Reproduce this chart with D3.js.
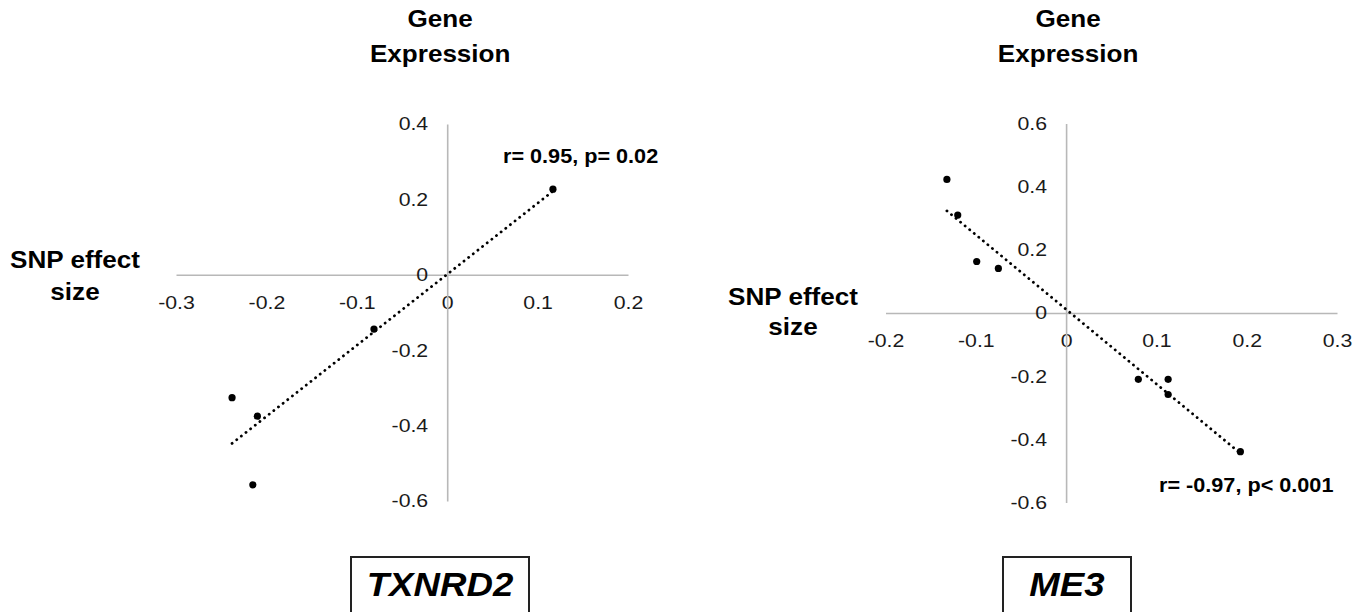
<!DOCTYPE html>
<html>
<head>
<meta charset="utf-8">
<script src="https://cdn.jsdelivr.net/npm/d3@7"></script>
<style>
  html, body { margin: 0; padding: 0; background: #fff; }
  svg { display: block; }
  text { font-family: "Liberation Sans", Arial, sans-serif; }
</style>
</head>
<body>
<svg id="chart" width="1368" height="612"></svg>
<script>
// ---- data ----
const txnrd2X = [0.117, -0.081, -0.238, -0.210, -0.215];
const txnrd2Y = [0.227, -0.144, -0.326, -0.375, -0.557];
const me3X = [-0.132, -0.120, -0.099, -0.075, 0.080, 0.113, 0.113, 0.193];
const me3Y = [0.423, 0.310, 0.163, 0.141, -0.210, -0.210, -0.258, -0.439];

const txnrd2XTicks = [-0.3, -0.2, -0.1, 0, 0.1, 0.2];
const txnrd2YTicks = [-0.6, -0.4, -0.2, 0, 0.2, 0.4];
const me3XTicks = [-0.2, -0.1, 0, 0.1, 0.2, 0.3];
const me3YTicks = [-0.6, -0.4, -0.2, 0, 0.2, 0.4, 0.6];

const geneNames = ["TXNRD2", "ME3"];
const statLabels = ["r= 0.95, p= 0.02", "r= -0.97, p< 0.001"];
const titleLines = ["Gene", "Expression"];
const snpLines = ["SNP effect", "size"];

// ---- layout ----
const panels = [
  { xs: txnrd2X, ys: txnrd2Y, xt: txnrd2XTicks, yt: txnrd2YTicks,
    xRange: [176, 628], yRange: [501, 124], titleDx: -7,
    snp: [75, 268, 300], stat: [503, 163], box: [351, 557, 178, 58], labelY: 596 },
  { xs: me3X, ys: me3Y, xt: me3XTicks, yt: me3YTicks,
    xRange: [885.5, 1337], yRange: [502.5, 123.5], titleDx: 2,
    snp: [793, 305, 335], stat: [1159, 492], box: [1003, 557, 128, 58], labelY: 596 }
];

const SX = 1.15; // horizontal stretch of the source picture
const svg = d3.select("#chart");
const fmt = d => { const v = +(+d).toFixed(1); return (v === 0 ? "0" : String(v)); };

panels.forEach((p, i) => {
  const xDom = d3.extent(p.xt), yDom = d3.extent(p.yt);
  const x = d3.scaleLinear().domain(xDom).range(p.xRange);
  const y = d3.scaleLinear().domain(yDom).range(p.yRange);
  const g = svg.append("g");

  // x axis (at y = 0)
  const xa = g.append("g").attr("transform", `translate(0,${y(0)})`)
    .call(d3.axisBottom(x).tickValues(p.xt).tickFormat(fmt).tickSizeInner(0).tickSizeOuter(0).tickPadding(21));
  // y axis (at x = 0)
  const ya = g.append("g").attr("transform", `translate(${x(0)},0)`)
    .call(d3.axisLeft(y).tickValues(p.yt).tickFormat(fmt).tickSizeInner(0).tickSizeOuter(0).tickPadding(19));

  [xa, ya].forEach(a => {
    a.select(".domain").attr("stroke", "#b8b8b8").attr("stroke-width", 1.6);
    a.selectAll(".tick line").remove();
    a.selectAll(".tick text")
      .attr("fill", "#1a1a1a")
      .style("font-size", "18.5px")
      .style("font-family", '"Liberation Sans", Arial, sans-serif');
  });
  xa.selectAll(".tick text").attr("transform", `scale(${SX},1)`);
  ya.selectAll(".tick text").attr("x", -19 / SX).attr("transform", `scale(${SX},1)`);

  // trendline (least squares)
  const mx = d3.mean(p.xs), my = d3.mean(p.ys);
  const sxy = d3.sum(p.xs, (v, k) => (v - mx) * (p.ys[k] - my));
  const sxx = d3.sum(p.xs, v => (v - mx) * (v - mx));
  const slope = sxy / sxx, icpt = my - slope * mx;
  const [x0, x1] = d3.extent(p.xs);
  g.append("path")
    .attr("d", d3.line()([[x(x0), y(slope * x0 + icpt)], [x(x1), y(slope * x1 + icpt)]]))
    .attr("fill", "none").attr("stroke", "#000").attr("stroke-width", 2.8)
    .attr("stroke-linecap", "round").attr("stroke-dasharray", "0.1,5.8");

  // points
  g.selectAll("circle").data(p.xs.map((v, k) => [v, p.ys[k]])).join("circle")
    .attr("cx", d => x(d[0])).attr("cy", d => y(d[1])).attr("r", 3.6).attr("fill", "#000");

  const boldText = (txt, cx, by, size, anchor, style) => {
    g.append("text").attr("transform", `translate(${cx},${by}) scale(${SX - 0.04},1)`)
      .attr("text-anchor", anchor).attr("font-weight", "bold")
      .attr("font-style", style || "normal")
      .style("font-size", size + "px").attr("fill", "#000").text(txt);
  };

  // titles
  const tc = x(0) + p.titleDx;
  boldText(titleLines[0], tc, 27, 23.5, "middle");
  boldText(titleLines[1], tc, 62, 23.5, "middle");
  // SNP effect size
  boldText(snpLines[0], p.snp[0], p.snp[1], 23.5, "middle");
  boldText(snpLines[1], p.snp[0], p.snp[2], 23.5, "middle");
  // stat annotation
  g.append("text").attr("transform", `translate(${p.stat[0]},${p.stat[1]}) scale(${SX - 0.04},1)`)
    .attr("font-weight", "bold").style("font-size", "19.5px").attr("fill", "#000").text(statLabels[i]);

  // gene box
  g.append("rect").attr("x", p.box[0]).attr("y", p.box[1]).attr("width", p.box[2]).attr("height", p.box[3])
    .attr("fill", "none").attr("stroke", "#222").attr("stroke-width", 2);
  boldText(geneNames[i], p.box[0] + p.box[2] / 2, p.labelY, 33, "middle", "italic");
});
</script>
</body>
</html>
